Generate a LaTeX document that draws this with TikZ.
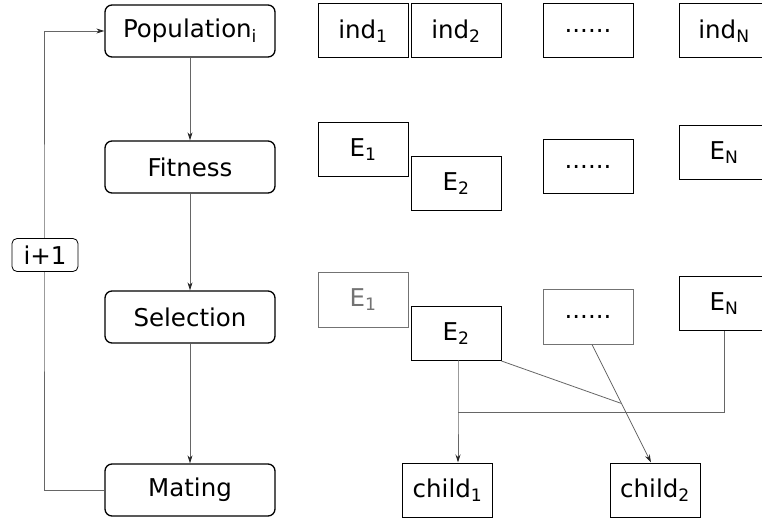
\documentclass[tikz,border=0pt]{standalone}
\usepackage{fontspec}
\setmainfont{DejaVu Sans}
\usetikzlibrary{arrows.meta}

\begin{document}
\begin{tikzpicture}[x=1pt,y=-1pt,
  every node/.style = {font=\fontsize{24.5}{29}\selectfont},
  main/.style = {draw, rounded corners=7pt, line width=1.3pt, minimum width=170pt, minimum height=52pt, inner sep=0pt},
  cell/.style = {draw, line width=1pt, minimum width=90pt, minimum height=54pt, inner sep=0pt},
  faded/.style = {draw=black!55},
  link/.style = {draw=black!60, line width=0.8pt},
  >={Stealth[length=8pt,width=5pt,black!85]}]
        \useasboundingbox (0,0) rectangle (762,518);
        \node[main] (1) at (190,31) {Population\textsubscript{i}};
        \node[main] (2) at (190,167) {Fitness};
        \node[main] (3) at (190,317) {Selection};
        \node[main] (4) at (190,490) {Mating};
        \draw[link,->] (1) -- (2);
        \draw[link,->] (2) -- (3);
        \draw[link,->] (3) -- (4);
        \draw[link,->] (4.west) -| (44,255) |- (1.west);
        \node[draw, fill=white, rounded corners=5pt, line width=0.8pt, minimum width=66pt, minimum height=33pt, inner sep=0pt] (step) at (45,255) {i+1};
        % population
        \node[cell] (i1) at (363,31) {ind\textsubscript{1}};
        \node[cell] (i2) at (456,31) {ind\textsubscript{2}};
        \node[cell] (idots) at (588,31) {......};
        \node[cell] (iN) at (724,31) {ind\textsubscript{N}};
        % fitness
        \node[cell] (f1) at (363,150) {E\textsubscript{1}};
        \node[cell] (f2) at (456,183.5) {E\textsubscript{2}};
        \node[cell] (fdots) at (588,167) {......};
        \node[cell] (fN) at (724,153) {E\textsubscript{N}};
        % selection
        \node[cell, faded, text=black!55] (s1) at (363,300) {E\textsubscript{1}};
        \node[cell] (s2) at (456,333.5) {E\textsubscript{2}};
        \node[cell, faded] (sdots) at (588,317) {......};
        \node[cell] (sN) at (724,303.7) {E\textsubscript{N}};
        % mating
        \node[cell] (c1) at (447.5,490) {child\textsubscript{1}};
        \node[cell] (c2) at (655,490) {child\textsubscript{2}};
        \coordinate (j) at (458,412);
        \draw[link,->] (458,360) -- (j) -- (c1.north -| j);
        \draw[link] (j) -| (sN.south);
        \draw[link,->] ([xshift=4pt]sdots.south) -- coordinate[midway] (mid) ([xshift=-4pt]c2.north);
        \draw[link] (s2.south east) -- (mid);
\end{tikzpicture}
\end{document}
